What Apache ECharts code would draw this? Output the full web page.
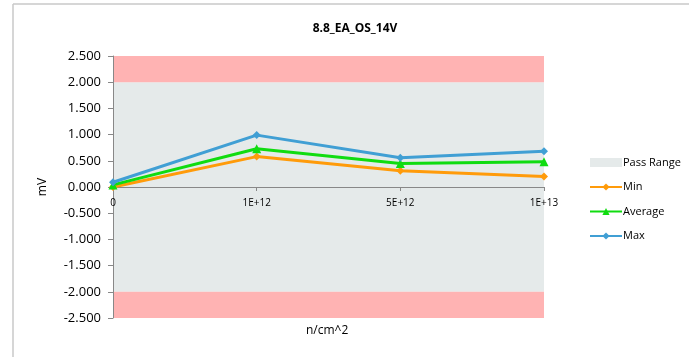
<!DOCTYPE html>
<html>
<head>
<meta charset="utf-8">
<script src="https://cdn.jsdelivr.net/npm/echarts@6/dist/echarts.min.js"></script>
<style>
html,body{margin:0;padding:0;background:#fff;}
#main_chart{width:689px;height:357px;}
</style>
</head>
<body>
<div id="main_chart"></div>
<script>
// x categories (fluence)
var categories = ["0", "1E+12", "5E+12", "1E+13"];
// measured values in mV
var minValues = [0.00, 0.58, 0.31, 0.20];
var avgValues = [0.04, 0.73, 0.45, 0.48];
var maxValues = [0.09, 0.99, 0.56, 0.68];
// pass range limits
var passLow = -2;
var passHigh = 2;
var axisMin = -2.5;
var axisMax = 2.5;

var chart = echarts.init(document.getElementById("main_chart"));
var fontName = "'Open Sans', 'Liberation Sans', sans-serif";

// grid size, used to put the category axis on the zero line
var gridTop = 56, gridBottom = 39, chartH = 357;
var plotH = chartH - gridTop - gridBottom;
var zeroOffset = -plotH * (0 - axisMin) / (axisMax - axisMin);

function lineSeries(name, data, color, symbol){
    return {
        name: name,
        type: 'line',
        data: data,
        symbol: symbol,
        symbolSize: symbol == 'triangle' ? 9 : 8,
        lineStyle: { width: 3, color: color },
        itemStyle: { color: color },
        z: 5
    };
}

var option = {
    animation: false,
    title: {
        text: "8.8_EA_OS_14V",
        left: 350,
        textAlign: 'center',
        top: 18,
        textStyle: { fontFamily: fontName, fontSize: 12, fontWeight: 'bold', color: '#000' }
    },
    graphic: [
        { type: 'line', shape: { x1: 13, y1: 4, x2: 689, y2: 4 }, style: { stroke: '#c8c8c8', lineWidth: 1.5 } },
        { type: 'line', shape: { x1: 13, y1: 4, x2: 13, y2: 357 }, style: { stroke: '#c8c8c8', lineWidth: 1.5 } },
        { type: 'text', left: 306, top: 325, style: { text: 'n/cm^2', font: "12px " + fontName, fill: '#000' } }
    ],
    legend: {
        orient: 'vertical',
        left: 584,
        top: 152,
        itemGap: 13.5,
        itemWidth: 32,
        itemHeight: 9,
        textStyle: { fontFamily: fontName, fontSize: 11, color: '#000', padding: [0, 0, 0, -4] },
        data: [
            { name: 'Pass Range', icon: 'rect', itemStyle: { color: '#e5eaea' } },
            'Min', 'Average', 'Max'
        ]
    },
    grid: { left: 113, top: gridTop, right: 145, bottom: gridBottom, containLabel: false },
    xAxis: {
        type: 'category',
        data: categories,
        boundaryGap: false,
        offset: zeroOffset,
        z: 4,
        axisLine: { onZero: false, lineStyle: { color: '#888', width: 1 } },
        axisTick: { show: true, length: 4, lineStyle: { color: '#888' } },
        axisLabel: { fontFamily: fontName, fontSize: 10, color: '#000', margin: 11, showMinLabel: true, showMaxLabel: true },
        splitLine: { show: false }
    },
    yAxis: {
        type: 'value',
        min: axisMin,
        max: axisMax,
        interval: 0.5,
        name: 'mV',
        nameLocation: 'middle',
        nameGap: 64,
        nameRotate: 90,
        z: 4,
        nameTextStyle: { fontFamily: fontName, fontSize: 12, color: '#000' },
        axisLine: { show: true, lineStyle: { color: '#888', width: 1 } },
        axisTick: { show: true, length: 5, lineStyle: { color: '#888' } },
        axisLabel: {
            fontFamily: fontName, fontSize: 13, color: '#000', margin: 12,
            formatter: function(v){ return v.toFixed(3); }
        },
        splitLine: { show: false }
    },
    series: [
        {
            name: 'Pass Range',
            type: 'line',
            data: [],
            itemStyle: { color: '#e5eaea' },
            silent: true,
            z: 1,
            markArea: {
                silent: true,
                itemStyle: { color: '#e5eaea' },
                data: [[{ yAxis: passLow }, { yAxis: passHigh }]]
            }
        },
        {
            name: 'Fail',
            type: 'line',
            data: [],
            silent: true,
            z: 1,
            markArea: {
                silent: true,
                itemStyle: { color: '#ffb3b3' },
                data: [
                    [{ yAxis: passHigh }, { yAxis: axisMax }],
                    [{ yAxis: axisMin }, { yAxis: passLow }]
                ]
            }
        },
        lineSeries('Min', minValues, '#ff9b0a', 'diamond'),
        lineSeries('Average', avgValues, '#10dc10', 'triangle'),
        lineSeries('Max', maxValues, '#409fd4', 'diamond')
    ]
};
chart.setOption(option);
</script>
</body>
</html>
